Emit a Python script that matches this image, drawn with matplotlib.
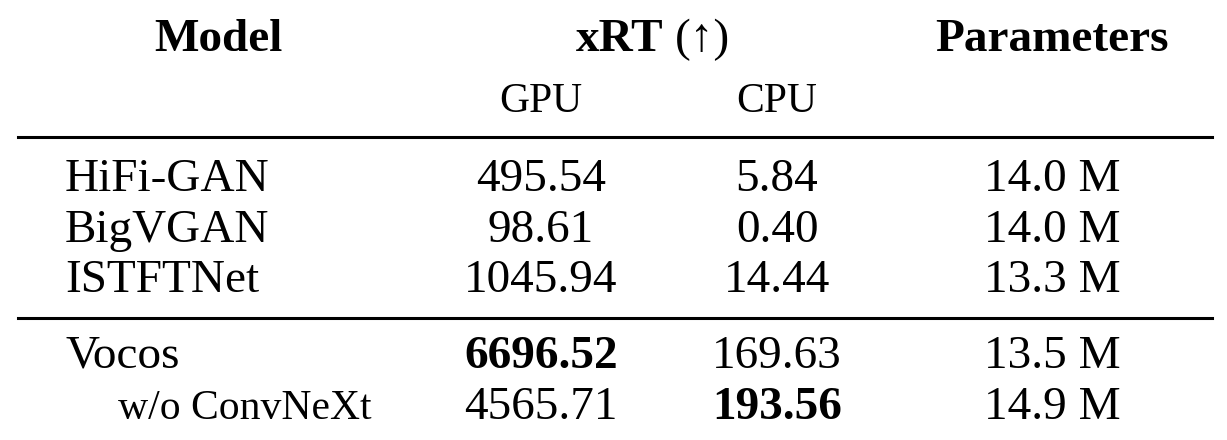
import matplotlib
matplotlib.use('Agg')

import matplotlib.pyplot as plt

plt.rcParams['font.family'] = ['Liberation Serif', 'DejaVu Serif']

# table data
models = ['HiFi-GAN', 'BigVGAN', 'ISTFTNet', 'Vocos', 'w/o ConvNeXt']
gpu = ['495.54', '98.61', '1045.94', '6696.52', '4565.71']
cpu = ['5.84', '0.40', '14.44', '169.63', '193.56']
params = ['14.0 M', '14.0 M', '13.3 M', '13.5 M', '14.9 M']
best_gpu = 'Vocos'
best_cpu = 'w/o ConvNeXt'

fig = plt.figure(figsize=(12.27, 4.4), dpi=100, facecolor='w')
ax = fig.add_axes([0, 0, 1, 1])
ax.set_xlim(0, 1227)
ax.set_ylim(440, 0)
ax.axis('off')

fs = 34
# header
ax.text(218, 51, 'Model', ha='center', va='baseline', fontsize=fs, fontweight='bold')
ax.text(664, 51, 'xRT', ha='right', va='baseline', fontsize=fs, fontweight='bold')
ax.text(675, 51, '(↑)', ha='left', va='baseline', fontsize=fs)
ax.text(1052, 51, 'Parameters', ha='center', va='baseline', fontsize=fs, fontweight='bold')
ax.text(541, 112, 'GPU', ha='center', va='baseline', fontsize=30)
ax.text(777, 112, 'CPU', ha='center', va='baseline', fontsize=30)

# rules
ax.plot([18, 1212], [137, 137], color='k', lw=2.2)
ax.plot([18, 1212], [318, 318], color='k', lw=2.2)

row_y = [191, 242, 292, 368, 419]
for i, m in enumerate(models):
    y = row_y[i]
    sub = m.startswith('w/o')
    ax.text(118 if sub else 65, y, m, ha='left', va='baseline',
            fontsize=30 if sub else fs)
    ax.text(541, y, gpu[i], ha='center', va='baseline', fontsize=fs,
            fontweight='bold' if m == best_gpu else 'normal')
    ax.text(777, y, cpu[i], ha='center', va='baseline', fontsize=fs,
            fontweight='bold' if m == best_cpu else 'normal')
    ax.text(1052, y, params[i], ha='center', va='baseline', fontsize=fs)

plt.savefig('out.png', dpi=100)
